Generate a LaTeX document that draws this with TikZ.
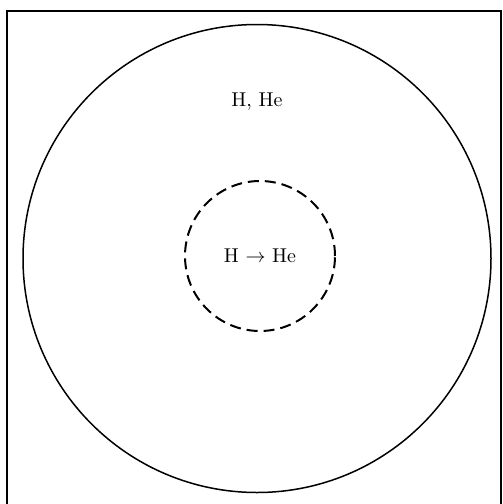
\documentclass[tikz,border=0pt]{standalone}
\usepackage{tikz}
\usetikzlibrary{positioning}

\begin{document}
\begin{tikzpicture}[
  x=0.5pt,
  y=-0.5pt,
  envelope/.style={
    draw,
    circle,
    line width=0.75pt,
    inner sep=0pt,
    minimum size=234pt
  },
  core/.style={
    draw,
    circle,
    dash pattern=on 5.5pt off 3pt,
    line width=1pt,
    inner sep=0pt,
    minimum size=75pt,
    align=center
  },
  frame/.style={draw,line width=1pt}
]
\useasboundingbox (0,0) rectangle (503,504);
\clip (0,0) rectangle (503,504);
\draw[frame] (7,11) rectangle (501,520);
\node[envelope] (star) at (257,258.5) {};
\node[core] (core) at (260,256) {H $\rightarrow$ He};
\node[above=0pt of star.center, yshift=70.5pt] (shell) {H, He};
\end{tikzpicture}
\end{document}
